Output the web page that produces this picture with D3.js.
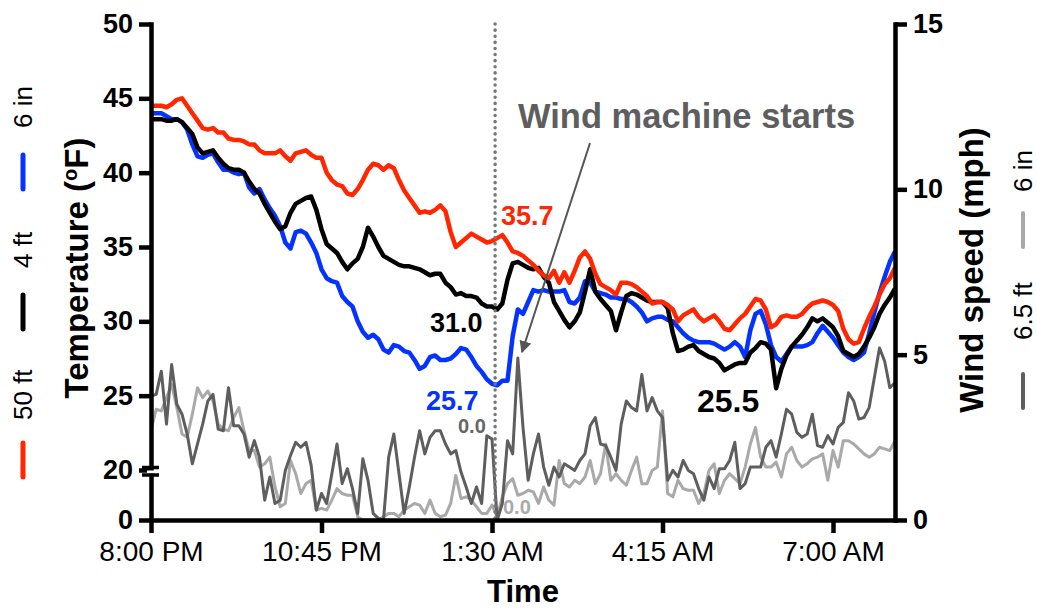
<!DOCTYPE html>
<html>
<head>
<meta charset="utf-8">
<script src="https://cdn.jsdelivr.net/npm/d3@7"></script>
<style>
    body { margin: 0; background: #fff; }
    #chart { width: 1037px; height: 610px; }
    text { font-family: "Liberation Sans", Arial, Helvetica, sans-serif; }
</style>
</head>
<body>
<div id="chart"></div>
<script>
// sample times: minutes after 8:00 PM, one reading every 5 min
var minutes = d3.range(0, 725, 5);

var timeTicks = [0, 165, 330, 495, 660];
var timeLabels = ['8:00 PM', '10:45 PM', '1:30 AM', '4:15 AM', '7:00 AM'];
var tempTicks = [0, 20, 25, 30, 35, 40, 45, 50];
var windTicks = [0, 5, 10, 15];

// temperature (F)
var temp50ft = [
    44.5,44.5,44.5,44.4,44.6,44.9,45.0,44.5,44.0,43.5,
    43.0,42.9,43.0,42.7,42.7,42.3,42.2,42.2,42.1,41.9,
    41.9,41.5,41.3,41.3,41.3,41.5,41.1,40.8,41.3,41.4,
    41.5,41.2,41.0,41.0,40.0,39.5,39.2,39.1,38.6,38.5,
    38.9,39.5,40.2,40.6,40.5,40.2,40.5,40.3,39.5,38.8,
    38.3,37.8,37.3,37.4,37.3,37.5,37.8,37.4,36.0,35.0,
    35.3,35.6,35.9,35.7,35.5,35.3,35.4,35.6,35.8,35.3,
    34.7,34.6,34.4,34.1,33.8,33.4,33.1,32.9,33.4,32.6,
    33.3,32.6,33.4,34.3,34.7,34.2,33.2,32.5,32.3,32.1,
    31.8,32.6,32.6,32.5,32.3,32.0,31.7,31.2,31.3,31.3,
    31.1,30.8,30.0,30.4,30.6,30.8,30.3,30.0,30.2,30.4,
    30.0,29.5,29.4,29.8,30.2,30.5,31.0,31.5,31.4,30.8,
    29.6,29.8,30.3,30.4,30.3,30.3,30.5,30.9,31.2,31.3,
    31.4,31.3,31.1,30.7,29.5,28.8,28.5,28.6,29.5,30.3,
    31.0,31.8,32.5,32.9,33.6
];
var temp4ft = [
    43.6,43.6,43.6,43.5,43.5,43.6,43.4,43.0,42.6,41.7,
    41.3,41.4,41.5,41.0,40.6,40.3,40.2,40.2,40.0,39.4,
    38.9,38.6,37.9,37.3,36.7,36.2,36.4,37.3,37.9,38.1,
    38.3,38.4,37.5,36.2,35.2,34.9,34.6,34.0,33.5,33.9,
    34.2,35.0,36.3,35.7,35.0,34.4,34.2,34.0,33.8,33.7,
    33.7,33.6,33.5,33.3,33.1,33.2,33.2,32.6,32.3,31.8,
    31.9,31.7,31.7,31.6,31.2,31.0,31.0,30.8,31.2,32.8,
    33.9,34.0,33.8,33.6,33.5,33.6,33.0,32.6,31.3,30.7,
    30.1,29.6,30.0,30.6,32.0,33.5,32.0,31.5,31.1,30.7,
    29.4,30.6,31.7,31.9,31.8,31.6,31.4,31.3,31.3,31.3,
    30.9,29.2,28.0,28.1,28.3,28.4,28.0,27.8,27.6,27.5,
    27.2,26.7,26.9,27.1,27.2,27.2,27.9,28.2,28.6,28.5,
    28.1,25.5,26.8,27.7,28.3,28.7,29.1,29.6,30.2,30.0,
    30.2,29.9,29.6,29.0,28.0,27.8,27.6,27.8,28.3,28.9,
    29.6,30.5,31.1,31.6,32.2
];
var temp6in = [
    44.0,44.0,44.0,43.8,43.6,43.6,43.4,42.9,41.9,41.1,
    41.0,41.2,41.3,40.7,40.2,40.2,40.0,39.9,40.0,39.0,
    38.6,38.9,38.2,37.6,37.1,36.4,35.3,34.9,36.0,36.1,
    35.9,35.3,34.6,33.5,32.9,32.7,32.6,31.7,31.3,31.0,
    30.0,29.3,28.9,29.1,28.8,28.1,27.9,28.4,28.3,28.0,
    27.9,27.4,26.8,27.0,27.6,27.7,27.4,27.4,27.5,27.8,
    28.2,28.1,27.6,27.0,26.6,26.1,25.8,25.7,26.0,26.0,
    29.0,30.8,30.5,31.3,32.1,32.0,32.1,32.0,32.0,32.0,
    32.1,31.3,31.2,31.6,32.7,32.6,32.0,31.9,31.8,31.6,
    31.6,31.5,31.5,31.3,31.0,30.6,30.0,30.2,30.3,30.3,
    30.1,30.0,29.6,29.2,28.9,28.7,28.6,28.6,28.6,28.5,
    28.3,28.1,28.3,28.6,28.3,27.6,29.4,30.5,30.7,29.8,
    28.4,27.6,27.3,27.8,28.3,28.3,28.3,28.4,28.6,29.2,
    29.7,29.3,28.9,28.4,27.9,27.6,27.4,27.6,27.9,29.2,
    30.6,31.9,33.0,34.0,34.7
];

// wind speed (mph)
var wind65ft = [
    3.75,3.8,4.5,2.9,4.7,3.5,3.2,2.6,1.7,2.3,
    2.9,3.6,3.8,2.75,2.7,4.0,2.85,2.85,2.6,1.9,
    2.4,1.9,0.6,1.3,0.5,0.6,1.5,1.95,2.35,2.2,
    2.35,1.65,0.3,0.8,0.5,1.4,2.3,1.1,1.55,0.95,
    0.2,1.85,1.2,0.2,0.05,0.0,1.9,2.6,1.4,0.2,
    1.0,1.9,2.7,2.0,2.5,2.7,2.7,2.3,2.0,2.1,
    1.45,1.0,0.5,1.0,0.5,2.55,2.45,0.0,0.5,2.4,
    2.0,4.9,2.8,1.2,2.0,2.6,1.6,1.05,1.6,1.3,
    1.7,1.6,1.5,1.8,2.0,2.85,3.1,2.3,2.25,1.9,
    1.5,2.9,3.6,3.4,3.3,4.4,3.3,3.7,3.3,3.1,
    1.2,1.5,1.3,1.8,1.5,1.4,0.95,0.6,1.3,0.95,
    1.55,1.55,1.8,2.35,0.95,1.1,1.6,1.6,1.6,2.2,
    2.4,1.9,2.6,3.35,3.2,2.65,2.5,2.6,3.2,2.25,
    2.2,2.55,2.3,2.8,2.95,3.85,3.6,3.05,3.1,3.4,
    4.3,5.2,4.8,4.0,4.15
];
var wind6in = [
    2.7,3.35,3.3,3.7,4.1,3.4,2.6,2.5,3.2,4.0,
    3.7,3.9,3.6,2.9,2.75,2.7,3.1,3.4,2.7,2.1,
    2.1,1.6,1.7,1.9,1.0,0.4,0.5,1.8,1.4,0.8,
    1.1,1.2,0.3,0.35,0.3,0.6,0.95,0.8,0.75,0.75,
    0.1,0.0,0.0,0.0,0.0,0.1,0.2,0.2,0.1,0.3,
    0.4,0.5,0.45,0.2,0.6,0.2,0.1,0.15,0.5,1.35,
    0.65,0.7,0.6,0.4,0.2,0.2,0.45,0.1,0.7,1.1,
    1.25,0.75,0.8,0.9,0.85,0.5,1.0,0.6,0.45,1.8,
    1.1,1.0,1.2,1.1,1.3,1.8,1.1,1.4,2.3,1.2,
    1.4,1.2,1.05,1.5,1.9,1.1,1.1,1.5,1.6,3.3,
    0.8,0.7,1.2,0.95,0.9,0.9,0.5,0.8,1.5,1.7,
    0.8,1.2,1.4,1.25,1.1,1.6,2.3,2.8,1.9,1.6,
    1.6,1.75,1.3,2.0,2.2,1.8,1.6,1.7,1.85,1.9,
    2.0,1.2,2.1,1.6,2.4,2.4,2.3,2.15,2.0,1.9,
    2.0,2.2,2.15,2.1,2.4
];

var red = '#ff2600', blue = '#0433ff', dark = '#5e5e5e', light = '#a9a9a9';

var width = 1037, height = 610;
var svg = d3.select('#chart')
    .append('svg')
        .attr('width', width)
        .attr('height', height)
;

// scales (temperature axis is broken below 20)
var x = d3.scaleLinear().domain([0, 720]).range([151, 895]);
var yT = d3.scaleLinear().domain([0, 20, 50]).range([520, 470, 24]);
var yW = d3.scaleLinear().domain([0, 15]).range([520, 24]);

// wind lines
var windLine = d3.line()
    .x(function(d, i) { return x(minutes[i]); })
    .y(function(d) { return yW(d); });

[[wind6in, light], [wind65ft, dark]].forEach(function(s) {
    svg.append('path')
        .datum(s[0])
        .attr('d', windLine)
        .attr('fill', 'none')
        .attr('stroke', s[1])
        .attr('stroke-width', 3)
        .attr('stroke-linejoin', 'round');
});

// temperature lines
var tempLine = d3.line()
    .x(function(d, i) { return x(minutes[i]); })
    .y(function(d) { return yT(d); });

[[temp6in, blue], [temp4ft, '#000'], [temp50ft, red]].forEach(function(s) {
    svg.append('path')
        .datum(s[0])
        .attr('d', tempLine)
        .attr('fill', 'none')
        .attr('stroke', s[1])
        .attr('stroke-width', 4.5)
        .attr('stroke-linejoin', 'round');
});

// wind machine start marker
svg.append('line')
    .attr('x1', x(333)).attr('x2', x(333))
    .attr('y1', yT(50)).attr('y2', yT(0))
    .attr('stroke', '#777')
    .attr('stroke-width', 3.5)
    .attr('stroke-linecap', 'round')
    .attr('stroke-dasharray', '0.1,6');

// axes
function styleAxis(g, size, weight) {
    g.select('.domain').attr('stroke', '#000').attr('stroke-width', 4.5).attr('stroke-linecap', 'square');
    g.selectAll('.tick line').attr('stroke', '#000').attr('stroke-width', 4.5);
    g.selectAll('.tick text')
        .attr('fill', '#000')
        .style('font-size', size + 'px')
        .style('font-weight', weight)
        .style('font-family', '"Liberation Sans", Arial, Helvetica, sans-serif');
}

svg.append('g')
    .attr('transform', 'translate(0,' + yT(0) + ')')
    .call(d3.axisBottom(x)
        .tickValues(timeTicks)
        .tickFormat(function(d, i) { return timeLabels[i]; })
        .tickSize(13).tickSizeOuter(0).tickPadding(8))
    .call(styleAxis, 28, 'normal');

svg.append('g')
    .attr('transform', 'translate(' + x(0) + ',0)')
    .call(d3.axisLeft(yT)
        .tickValues(tempTicks)
        .tickSize(12).tickSizeOuter(0).tickPadding(6))
    .call(styleAxis, 27, 'bold');

svg.append('g')
    .attr('transform', 'translate(' + x(720) + ',0)')
    .call(d3.axisRight(yW)
        .tickValues(windTicks)
        .tickSize(12).tickSizeOuter(0).tickPadding(6))
    .call(styleAxis, 27, 'bold');

// axis break marks between 0 and 20
svg.append('rect')
    .attr('x', x(0) - 4).attr('y', yT(20) + 0.5)
    .attr('width', 8).attr('height', 3)
    .attr('fill', '#fff');
[yT(20) - 2.5, yT(20) + 5].forEach(function(yy) {
    svg.append('line')
        .attr('x1', x(0) - 9).attr('x2', x(0) + 8)
        .attr('y1', yy).attr('y2', yy)
        .attr('stroke', '#000').attr('stroke-width', 3.5);
});

// axis titles
svg.append('text')
    .attr('x', x(360)).attr('y', 602)
    .attr('text-anchor', 'middle')
    .style('font-size', '31px').style('font-weight', 'bold')
    .text('Time');

var tTitle = svg.append('text')
    .attr('transform', 'translate(88,268) rotate(-90)')
    .attr('text-anchor', 'middle')
    .style('font-size', '33px').style('font-weight', 'bold');
tTitle.append('tspan').text('Temperature (');
tTitle.append('tspan').attr('dy', '-0.55em').style('font-size', '20px').text('o');
tTitle.append('tspan').attr('dy', '0.33em').text('F)');

svg.append('text')
    .attr('transform', 'translate(983,270) rotate(-90)')
    .attr('text-anchor', 'middle')
    .style('font-size', '33px').style('font-weight', 'bold')
    .text('Wind speed (mph)');

// legends (rotated): label, colour, segment bottom, text start
var leftLegend = [['50 ft', red, 479, 420], ['4 ft', '#000', 331, 268], ['6 in', blue, 191, 128]];
var rightLegend = [['6.5 ft', dark, 410, 340], ['6 in', light, 249, 192]];

function drawLegend(items, cx, segWidth) {
    items.forEach(function(d) {
        svg.append('line')
            .attr('x1', cx).attr('x2', cx)
            .attr('y1', d[2] - 2).attr('y2', d[2] - 36)
            .attr('stroke', d[1])
            .attr('stroke-width', segWidth)
            .attr('stroke-linecap', 'round');
        svg.append('text')
            .attr('transform', 'translate(' + cx + ',' + d[3] + ') rotate(-90)')
            .attr('dy', '0.36em')
            .style('font-size', '26px')
            .text(d[0]);
    });
}
drawLegend(leftLegend, 23, 5);
drawLegend(rightLegend, 1023, 4);

// value labels
var labels = [
    { text: '35.7', x: 501, y: 225, size: 27, color: red },
    { text: '31.0', x: 430, y: 332, size: 27, color: '#000' },
    { text: '25.7', x: 426, y: 410, size: 27, color: blue },
    { text: '0.0',  x: 458, y: 433, size: 20, color: '#666' },
    { text: '0.0',  x: 503, y: 514, size: 20, color: '#aaa' },
    { text: '25.5', x: 697, y: 412, size: 32, color: '#000' },
    { text: 'Wind machine starts', x: 518, y: 128, size: 34.5, color: dark }
];
svg.append('g')
    .selectAll('text')
    .data(labels)
    .enter()
    .append('text')
        .attr('x', function(d) { return d.x; })
        .attr('y', function(d) { return d.y; })
        .style('font-size', function(d) { return d.size + 'px'; })
        .style('font-weight', 'bold')
        .style('fill', function(d) { return d.color; })
        .text(function(d) { return d.text; })
;

// arrow to the first wind peak after start
svg.append('defs').append('marker')
    .attr('id', 'arrow')
    .attr('viewBox', '0 0 10 10')
    .attr('refX', 9).attr('refY', 5)
    .attr('markerWidth', 6).attr('markerHeight', 6)
    .attr('markerUnits', 'strokeWidth')
    .attr('orient', 'auto')
    .append('path')
        .attr('d', 'M0,0 L10,5 L0,10 z')
        .attr('fill', '#555');

svg.append('line')
    .attr('x1', 590).attr('y1', 143)
    .attr('x2', 522).attr('y2', 352)
    .attr('stroke', '#555')
    .attr('stroke-width', 2)
    .attr('marker-end', 'url(#arrow)');
</script>
</body>
</html>
